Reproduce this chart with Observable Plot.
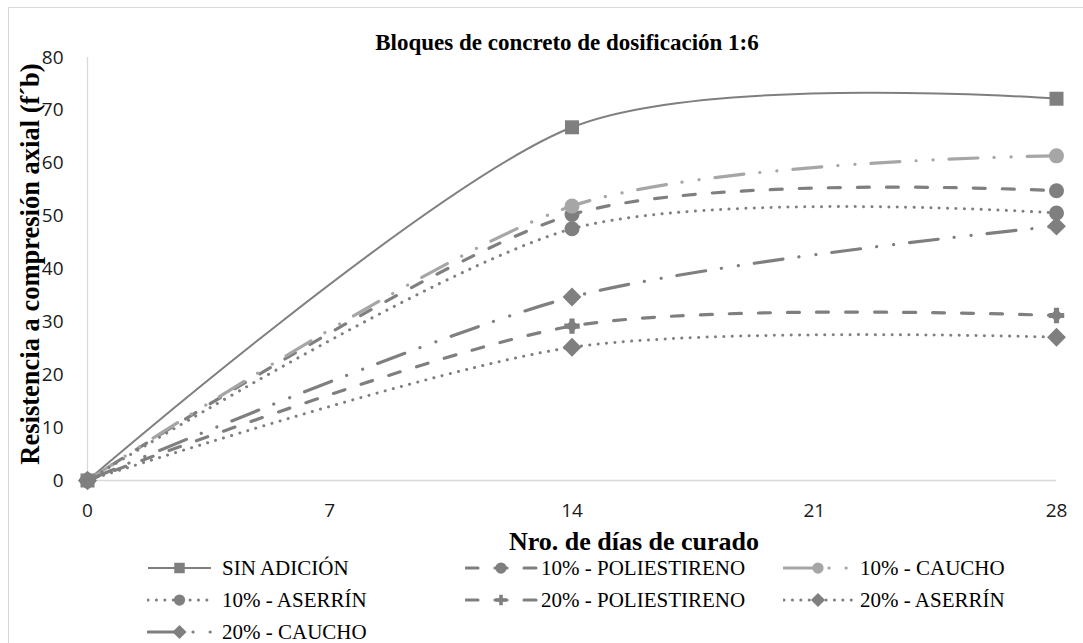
<!DOCTYPE html>
<html>
<head>
<meta charset="utf-8">
<script src="https://cdn.jsdelivr.net/npm/d3@7"></script>
<script src="https://cdn.jsdelivr.net/npm/@observablehq/plot@0.6"></script>
<style>
html, body { margin: 0; padding: 0; background: #fff; overflow: hidden; }
#wrap { position: relative; width: 1083px; height: 643px; overflow: hidden; background: #fff; }
#border { position: absolute; left: 8px; top: 7px; width: 1200px; height: 800px; border: 1px solid #d9d9d9; box-sizing: border-box; }
#chart { position: absolute; left: 0; top: 0; }
.ttl { position: absolute; font-family: "Liberation Serif", "Times New Roman", serif; font-weight: bold; color: #000; white-space: nowrap; line-height: 1; }
.leg { position: absolute; display: flex; align-items: center; height: 24px; font-family: "Liberation Serif", "Times New Roman", serif; font-size: 21px; color: #000; white-space: nowrap; }
.leg svg { display: block; }
</style>
</head>
<body>
<div id="wrap">
  <div id="border"></div>
  <div id="chart"></div>
</div>
<script>
// ---- data ----
const days = [0, 14, 28];
const seriesNames = ["SIN ADICIÓN", "10% - POLIESTIRENO", "10% - CAUCHO", "10% - ASERRÍN", "20% - POLIESTIRENO", "20% - ASERRÍN", "20% - CAUCHO"];
const sinAdicion     = [0, 66.8, 72.2];
const poliestireno10 = [0, 50.3, 54.8];
const caucho10       = [0, 51.9, 61.4];
const aserrin10      = [0, 47.6, 50.6];
const poliestireno20 = [0, 29.2, 31.2];
const aserrin20      = [0, 25.2, 27.1];
const caucho20       = [0, 34.7, 48.1];
const xTicks = [0, 7, 14, 21, 28];
const yTicks = [0, 10, 20, 30, 40, 50, 60, 70, 80];
const chartTitle = "Bloques de concreto de dosificación 1:6";
const xTitle = "Nro. de días de curado";
const yTitle = "Resistencia a compresión axial (f´b)";

const seriesValues = [sinAdicion, poliestireno10, caucho10, aserrin10, poliestireno20, aserrin20, caucho20];

// ---- styles ----
const DARK = "#7f7f7f", LIGHT = "#a6a6a6";
const DASH = "12,17", DOT = "0.1,8.3", LDDD = "29,16,0.1,17,0.1,16";
const styles = [
  {stroke: DARK,  width: 2,   dash: null, symbol: "square",   r: 7.9},
  {stroke: DARK,  width: 3.2, dash: DASH, symbol: "circle",   r: 7.5},
  {stroke: LIGHT, width: 3.2, dash: LDDD, symbol: "circle",   r: 7.5},
  {stroke: DARK,  width: 3,   dash: DOT,  symbol: "circle",   r: 7.5},
  {stroke: DARK,  width: 3.2, dash: DASH, symbol: "plusdiamond", r: 7},
  {stroke: DARK,  width: 3,   dash: DOT,  symbol: "diamond2", r: 8.5},
  {stroke: DARK,  width: 3.2, dash: LDDD, symbol: "diamond2", r: 8.5}
];

const rows = seriesNames.flatMap((name, i) => days.map((d, j) => ({series: name, idx: i, day: d, value: seriesValues[i][j]})));

const marks = [
  Plot.ruleX([0], {y1: 0, y2: 80, stroke: "#d9d9d9", strokeWidth: 1.3}),
  Plot.ruleY([0], {x1: 0, x2: 28, stroke: "#d9d9d9", strokeWidth: 1.3}),
  Plot.axisX({ticks: xTicks, tickSize: 0, tickPadding: 23, fontSize: 19, label: null, tickFormat: d => d}),
  Plot.axisY({ticks: yTicks, tickSize: 0, tickPadding: 24, fontSize: 19, label: null, tickFormat: d => d})
];
seriesNames.forEach((name, i) => {
  const st = styles[i];
  const data = rows.filter(r => r.idx === i);
  marks.push(Plot.line(data, {
    x: "day", y: "value", curve: "cardinal", tension: 0.15,
    stroke: st.stroke, strokeWidth: st.width,
    strokeDasharray: st.dash || undefined,
    strokeLinecap: st.dash ? "round" : "butt"
  }));
});
seriesNames.forEach((name, i) => {
  const st = styles[i];
  const data = rows.filter(r => r.idx === i);
  if (st.symbol === "plusdiamond") {
    marks.push(Plot.dot(data, {x: "day", y: "value", symbol: "cross", r: 6.5, fill: st.stroke, stroke: "none"}));
    marks.push(Plot.dot(data, {x: "day", y: "value", symbol: "diamond2", r: 6, fill: st.stroke, stroke: "none"}));
  } else {
    marks.push(Plot.dot(data, {x: "day", y: "value", symbol: st.symbol, r: st.r, fill: st.stroke, stroke: "none"}));
  }
});

const chart = Plot.plot({
  width: 1083,
  height: 525,
  marginLeft: 87,
  marginRight: 27,
  marginTop: 57,
  marginBottom: 45,
  style: {fontFamily: "'Open Sans', sans-serif", color: "#1a1a1a", background: "transparent", overflow: "visible"},
  x: {domain: [0, 28]},
  y: {domain: [0, 80]},
  marks
});
document.getElementById("chart").appendChild(chart);

const wrap = document.getElementById("wrap");
function addTitle(text, cx, cy, size, rotate) {
  const el = document.createElement("div");
  el.className = "ttl";
  el.textContent = text;
  el.style.fontSize = size + "px";
  el.style.left = cx + "px";
  el.style.top = cy + "px";
  el.style.transform = "translate(-50%, -50%)" + (rotate ? " rotate(-90deg)" : "");
  wrap.appendChild(el);
}
addTitle(chartTitle, 567, 42, 23, false);
addTitle(xTitle, 634, 542, 26, false);
addTitle(yTitle, 30, 264, 26.5, true);

// ---- legend ----
const legPos = [
  [147, 568], [465, 568], [783, 568],
  [147, 600], [465, 600], [783, 600],
  [147, 632]
];
const swatchW = [65, 72, 70];
const textOff = [75, 76, 77];
const symMap = {square: d3.symbolSquare, circle: d3.symbolCircle, diamond2: d3.symbolDiamond2, cross: d3.symbolCross};
seriesNames.forEach((name, i) => {
  const st = styles[i];
  const [lx, ly] = legPos[i];
  const col = i % 3;
  const w = swatchW[col];
  const div = document.createElement("div");
  div.className = "leg";
  div.style.left = lx + "px";
  div.style.top = (ly - 12) + "px";
  const svg = d3.create("svg").attr("width", textOff[col]).attr("height", 24);
  svg.append("line").attr("x1", 1).attr("x2", w - 1).attr("y1", 12).attr("y2", 12)
    .attr("stroke", st.stroke).attr("stroke-width", st.width)
    .attr("stroke-dasharray", st.dash || null)
    .attr("stroke-linecap", st.dash ? "round" : "butt");
  const g = svg.append("g").attr("transform", `translate(${w / 2},12)`).attr("fill", st.stroke);
  if (st.symbol === "plusdiamond") {
    g.append("path").attr("d", d3.symbol(d3.symbolCross, Math.PI * 4.5 * 4.5)());
  } else {
    const rr = st.r * 0.75;
    g.append("path").attr("d", d3.symbol(symMap[st.symbol], Math.PI * rr * rr)());
  }
  div.appendChild(svg.node());
  const span = document.createElement("span");
  span.textContent = name;
  div.appendChild(span);
  wrap.appendChild(div);
});
</script>
</body>
</html>
